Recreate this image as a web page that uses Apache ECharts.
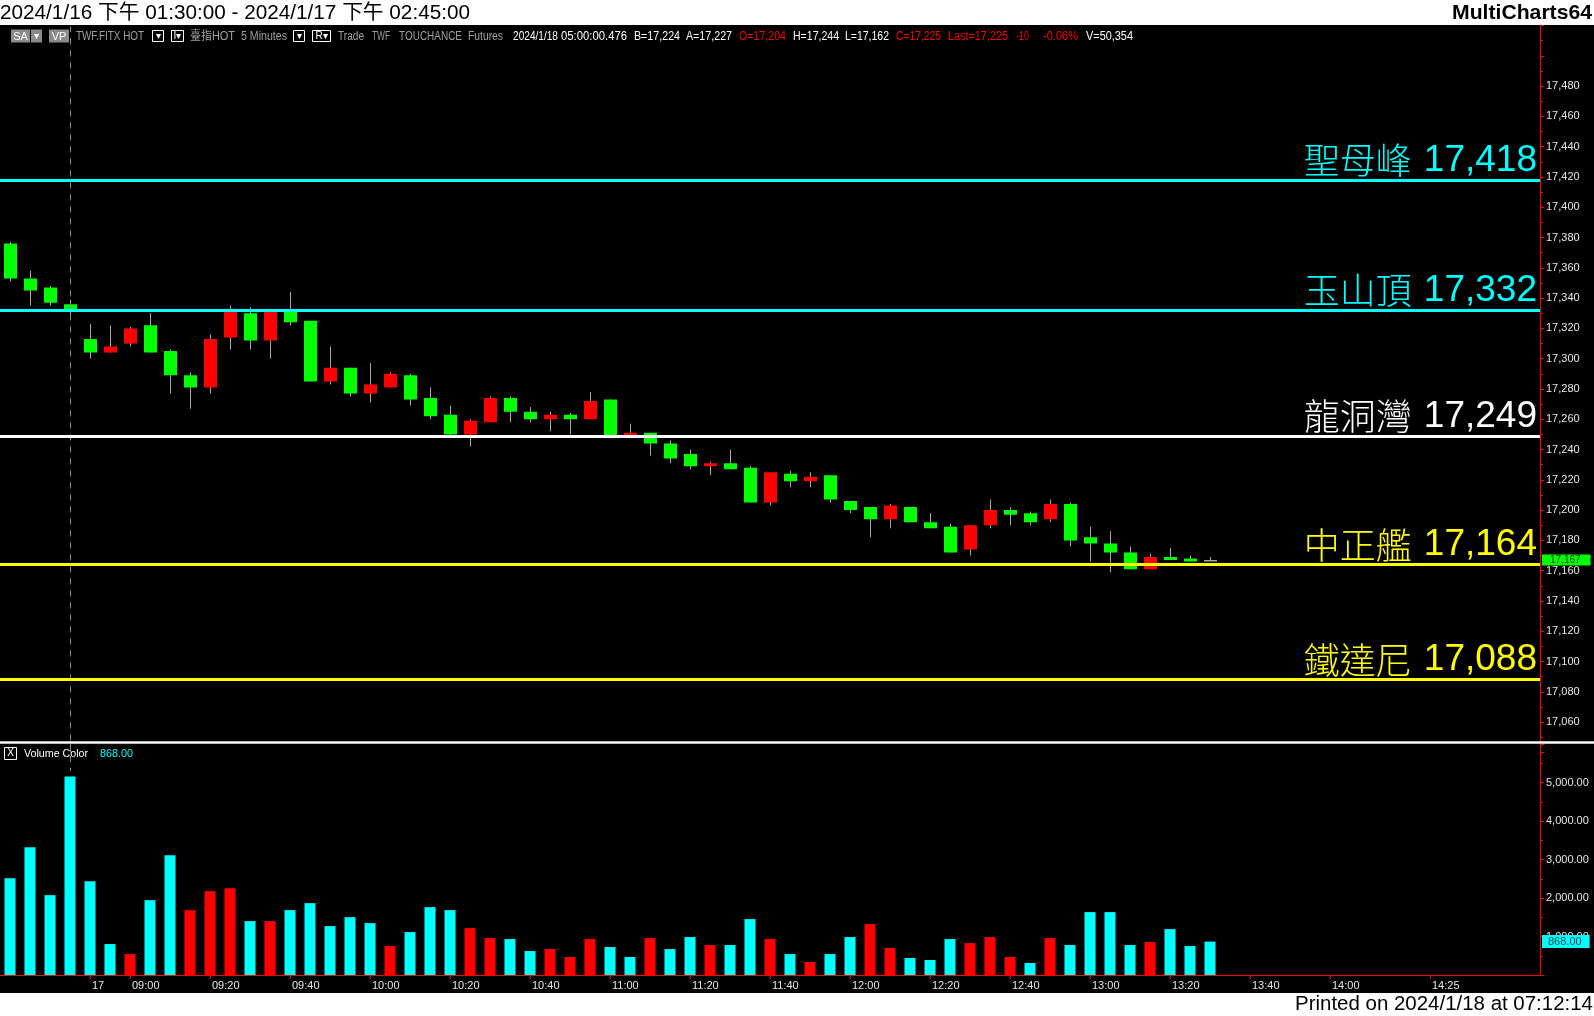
<!DOCTYPE html>
<html><head><meta charset="utf-8">
<script src="https://cdn.jsdelivr.net/npm/echarts@6/dist/echarts.min.js"></script>
<style>html,body{margin:0;padding:0;background:#fff;overflow:hidden}#c{width:1594px;height:1016px}</style>
</head><body><div id="c"></div>
<script>
// ---------------- data ----------------
const categories = ['04:45','04:50','04:55','05:00','08:50','08:55','09:00','09:05','09:10','09:15','09:20','09:25','09:30','09:35','09:40','09:45','09:50','09:55','10:00','10:05','10:10','10:15','10:20','10:25','10:30','10:35','10:40','10:45','10:50','10:55','11:00','11:05','11:10','11:15','11:20','11:25','11:30','11:35','11:40','11:45','11:50','11:55','12:00','12:05','12:10','12:15','12:20','12:25','12:30','12:35','12:40','12:45','12:50','12:55','13:00','13:05','13:10','13:15','13:20','13:25','13:30','13:35','13:40','13:45','13:50','13:55','14:00','14:05','14:10','14:15','14:20','14:25','14:30','14:35','14:40','14:45','14:50'];
const opens  = [17376,17353,17347,17336,17313,17304,17310,17322,17305,17289,17281,17314,17330,17312,17332,17325,17285,17294,17277,17281,17289,17274,17263,17250,17258,17274,17265,17260,17263,17260,17273,17249,17251,17244,17237,17229,17231,17228,17205,17224,17219,17223,17206,17202,17194,17202,17192,17189,17174,17190,17200,17198,17194,17204,17182,17178,17172,17161,17169,17168,17167];
const closes = [17353,17345,17337,17332,17304,17308,17320,17304,17289,17281,17313,17333,17312,17332,17324,17285,17294,17277,17283,17290,17273,17262,17250,17259,17274,17265,17260,17263,17260,17272,17249,17251,17244,17234,17229,17231,17227,17205,17225,17219,17222,17207,17200,17194,17203,17192,17188,17172,17190,17200,17197,17192,17204,17180,17178,17172,17161,17169,17167,17166,17167];
const lows   = [17351,17335,17335,17326,17300,17304,17308,17304,17277,17267,17277,17306,17306,17300,17322,17285,17283,17275,17271,17281,17269,17260,17248,17242,17258,17258,17258,17252,17250,17260,17249,17249,17236,17231,17227,17223,17227,17205,17203,17215,17215,17205,17198,17182,17188,17192,17188,17172,17170,17188,17190,17190,17192,17176,17166,17159,17161,17161,17167,17166,17167];
const highs  = [17377,17358,17348,17339,17323,17322,17321,17330,17306,17291,17316,17335,17334,17333,17344,17325,17308,17294,17297,17291,17290,17281,17269,17260,17275,17275,17268,17265,17264,17278,17273,17257,17251,17246,17240,17232,17240,17229,17225,17226,17225,17223,17206,17202,17204,17202,17198,17191,17190,17207,17202,17199,17207,17205,17189,17186,17176,17171,17175,17170,17169];
const volumes = [2514,3318,2074,5158,2436,804,544,1944,3110,1685,2177,2255,1400,1400,1685,1866,1270,1503,1348,752,1115,1763,1685,1218,959,933,622,674,467,933,726,467,959,674,985,778,778,1452,933,544,337,544,985,1322,700,441,389,933,829,985,467,311,959,778,1633,1633,778,855,1192,752,868];
const volumeUp = [0,0,0,0,0,0,1,0,0,1,1,1,0,1,0,0,0,0,0,1,0,0,0,1,1,0,0,1,1,1,0,0,1,0,0,1,0,0,1,0,1,0,0,1,1,0,0,0,1,1,1,0,1,0,0,0,0,1,0,0,0];
const levelNames  = ['聖母峰','玉山頂','龍洞灣','中正艦','鐵達尼'];
const levelValues = [17418,17332,17249,17164,17088];
const tickCats  = ['08:50','09:00','09:20','09:40','10:00','10:20','10:40','11:00','11:20','11:40','12:00','12:20','12:40','13:00','13:20','13:40','14:00','14:25'];
const tickTexts = ['17','09:00','09:20','09:40','10:00','10:20','10:40','11:00','11:20','11:40','12:00','12:20','12:40','13:00','13:20','13:40','14:00','14:25'];
const sessionBreak = '05:00';
const headerTitle = '2024/1/16 下午 01:30:00 - 2024/1/17 下午 02:45:00';
const brandText = 'MultiCharts64';
const printedText = 'Printed on 2024/1/18 at 07:12:14';
const infoTokens = ['TWF.FITX HOT','臺指HOT','5 Minutes','Trade','TWF','TOUCHANCE','Futures',
  '2024/1/18','05:00:00.476','B=17,224','A=17,227','O=17,204','H=17,244',
  'L=17,162','C=17,225','Last=17,225','-10','-0.06%','V=50,354'];
const infoKinds = ['g','g','g','g','g','g','g','w','w','w','w','r','w','w','r','r','r','r','w'];

// ---------------- layout / styles ----------------
const infoX = [76,190,241,338,372,399,468,513,561,634,686,739,793,845,896,948,1016,1043,1086];
const infoW = [68,45,46,26,18,63,35,45,66,46,46,47,46,44,45,60,13,35,47];
const levelColors = ['#00ffff','#00ffff','#ffffff','#ffff00','#ffff00'];
const UP = '#ff0000', DOWN = '#00ff00', WICK = '#a8a8a8';
const AXIS = '#ff0000', LBL = '#e6e6e6';
const FONT = '"Liberation Sans", Arial, "Noto Sans CJK TC", sans-serif';

const fmt = v => Number(v).toLocaleString('en-US');
const fmt2 = v => Number(v).toLocaleString('en-US', {minimumFractionDigits: 2, maximumFractionDigits: 2});

const mctx = document.createElement('canvas').getContext('2d');
function measure(text, size, weight) {
  mctx.font = (weight || 'normal') + ' ' + size + 'px ' + FONT;
  return mctx.measureText(text).width;
}

const candleData = opens.map((o, i) => [i, o, closes[i], lows[i], highs[i]]);
const volData = volumes.map((v, i) => ({value: v, itemStyle: {color: volumeUp[i] ? '#ff0000' : '#00ffff'}}));

function renderCandle(params, api) {
  const i = api.value(0), o = api.value(1), c = api.value(2), l = api.value(3), h = api.value(4);
  const pO = api.coord([i, o]), pC = api.coord([i, c]), pL = api.coord([i, l]), pH = api.coord([i, h]);
  const w = Math.round(api.size([1, 0])[0] * 0.65);
  const x = Math.round(pO[0]) + 0.5;
  const top = Math.min(pO[1], pC[1]), bot = Math.max(pO[1], pC[1]);
  const color = c > o ? UP : (c < o ? DOWN : WICK);
  return {type: 'group', children: [
    {type: 'line', shape: {x1: x, y1: pH[1], x2: x, y2: pL[1]}, style: {stroke: WICK, lineWidth: 1}},
    {type: 'rect', shape: {x: Math.round(x - w / 2), y: top, width: w, height: Math.max(bot - top, 1.5)}, style: {fill: color}}
  ]};
}

const levelLines = levelValues.map((v, k) => ({
  yAxis: v,
  lineStyle: {color: levelColors[k], width: 3, type: 'solid'},
  label: {
    show: true, position: 'insideEndTop', distance: [3, 1],
    formatter: '{n|' + levelNames[k] + '}{v|' + fmt(v) + '}',
    rich: {
      n: {color: levelColors[k], fontSize: 36, fontFamily: '"Noto Sans CJK TC"', fontWeight: 300},
      v: {color: levelColors[k], fontSize: 37, fontFamily: '"Liberation Sans", Arial', padding: [0, 0, 0, 12]}
    }
  }
}));

const lastClose = closes[closes.length - 1];
const lastVol = volumes[volumes.length - 1];

function textEl(x, y, text, fill, size, align, targetW, weight) {
  const s = targetW ? targetW / measure(text, size, weight) : 1;
  return {
    type: 'text', x: x, y: y, scaleX: s, silent: true, z: 100,
    style: {text: text, fill: fill, fontSize: size, fontFamily: FONT, fontWeight: weight || 'normal',
            align: align || 'left', verticalAlign: 'middle', textAlign: align || 'left', textVerticalAlign: 'middle'}
  };
}
const rectEl = (x, y, w, h, fill, stroke) => ({type: 'rect', silent: true, z: 99, shape: {x: x, y: y, width: w, height: h},
  style: {fill: fill, stroke: stroke || null, lineWidth: stroke ? 1 : 0}});

const infoColors = {g: '#a0a0a0', w: '#ffffff', r: '#ff0000'};
const graphics = [
  rectEl(0, 0, 1594, 25, '#ffffff'),
  rectEl(0, 993, 1594, 23, '#ffffff'),
  rectEl(0, 741, 1594, 3, '#bdbdbd'),
  {type: 'line', silent: true, z: 100, shape: {x1: 0, y1: 742.5, x2: 1594, y2: 742.5}, style: {stroke: '#ffffff', lineWidth: 1}},
  {type: 'line', silent: true, z: 100, shape: {x1: 70.5, y1: 744, x2: 70.5, y2: 771}, style: {stroke: '#8a8a8a', lineWidth: 1, lineDash: [6, 6]}},
  textEl(0, 13, headerTitle, '#000000', 20, 'left', 470),
  textEl(1592, 13, brandText, '#000000', 21, 'right', 140, 'bold'),
  textEl(1593, 1004, printedText, '#000000', 20, 'right', 298),
  // info bar widgets
  rectEl(11, 29.5, 31, 13, '#8a8a8a'),
  {type: 'line', silent: true, z: 100, shape: {x1: 30.5, y1: 29.5, x2: 30.5, y2: 42.5}, style: {stroke: '#000', lineWidth: 1}},
  textEl(20.5, 36.5, 'SA', '#ffffff', 11, 'center'),
  textEl(36.5, 36.5, '▾', '#ffffff', 10, 'center'),
  rectEl(49, 29.5, 20, 13, '#8a8a8a'),
  textEl(59, 36.5, 'VP', '#ffffff', 11, 'center'),
  rectEl(152.5, 30.5, 11, 11, '#000', '#ffffff'),
  textEl(158, 36.5, '▾', '#ffffff', 10, 'center'),
  rectEl(171.5, 30.5, 12, 11, '#000', '#ffffff'),
  textEl(177.5, 36.5, 'I▾', '#ffffff', 10, 'center'),
  rectEl(293.5, 30.5, 11, 11, '#000', '#ffffff'),
  textEl(299, 36.5, '▾', '#ffffff', 10, 'center'),
  rectEl(312.5, 30.5, 18, 11, '#000', '#ffffff'),
  textEl(321.5, 36.5, 'R▾', '#ffffff', 10, 'center'),
  // volume legend
  rectEl(4.5, 747.5, 12, 12, '#000', '#ffffff'),
  textEl(10.5, 753.5, 'X', '#ffffff', 10, 'center'),
  textEl(24, 753.5, 'Volume Color', '#ffffff', 11, 'left', 64),
  textEl(100, 753.5, fmt2(lastVol), '#00ffff', 11, 'left', 33)
];
infoTokens.forEach((t, k) => graphics.push(textEl(infoX[k], 36.5, t, infoColors[infoKinds[k]], 12, 'left', infoW[k])));

const chart = echarts.init(document.getElementById('c'), null, {renderer: 'canvas'});
chart.setOption({
  animation: false,
  backgroundColor: '#000000',
  textStyle: {fontFamily: FONT},
  grid: [
    {left: 0, right: 54, top: 25.5, height: 726.9},
    {left: 0, right: 54, top: 744, height: 231}
  ],
  xAxis: [
    {type: 'category', gridIndex: 0, data: categories, boundaryGap: true, show: false},
    {type: 'category', gridIndex: 1, data: categories, boundaryGap: true,
     axisLine: {lineStyle: {color: AXIS, width: 1}},
     axisTick: {show: true, alignWithLabel: true, length: 4, lineStyle: {color: AXIS},
                interval: (i, v) => tickCats.indexOf(v) >= 0},
     axisLabel: {show: true, color: LBL, fontSize: 11, align: 'left', margin: 5, padding: [0, 0, 0, 2],
                 interval: (i, v) => tickCats.indexOf(v) >= 0,
                 formatter: v => { const k = tickCats.indexOf(v); return k >= 0 ? tickTexts[k] : ''; }},
     splitLine: {show: false}}
  ],
  yAxis: [
    {type: 'value', gridIndex: 0, position: 'right', min: 17040, max: 17520, interval: 20,
     axisLine: {show: true, lineStyle: {color: AXIS}},
     axisTick: {show: true, length: 4, lineStyle: {color: AXIS}},
     minorTick: {show: true, splitNumber: 2, length: 3, lineStyle: {color: AXIS}},
     axisLabel: {color: LBL, fontSize: 11, margin: 6,
                 formatter: v => (v >= 17060 && v <= 17480) ? fmt(v) : ''},
     splitLine: {show: false}, minorSplitLine: {show: false}},
    {type: 'value', gridIndex: 1, position: 'right', min: 0, max: 6000, interval: 1000,
     axisLine: {show: true, lineStyle: {color: AXIS}},
     axisTick: {show: true, length: 4, lineStyle: {color: AXIS}},
     minorTick: {show: true, splitNumber: 2, length: 3, lineStyle: {color: AXIS}},
     axisLabel: {color: LBL, fontSize: 11, margin: 6,
                 formatter: v => (v >= 1000 && v <= 5000) ? fmt2(v) : ''},
     splitLine: {show: false}}
  ],
  series: [
    {type: 'custom', name: 'price', xAxisIndex: 0, yAxisIndex: 0, data: candleData,
     encode: {x: 0, y: [1, 2, 3, 4]}, renderItem: renderCandle, clip: true, silent: true,
     markLine: {silent: true, symbol: ['none', 'none'], animation: false,
       emphasis: {disabled: true},
       data: [
         {xAxis: sessionBreak, lineStyle: {color: '#8a8a8a', width: 1, type: [6, 6]}, label: {show: false}},
         ...levelLines,
         {yAxis: lastClose, lineStyle: {color: 'rgba(0,0,0,0)', width: 1},
          label: {show: true, position: 'end', distance: 2, formatter: fmt(lastClose), color: '#003800',
                  backgroundColor: '#00ff00', fontSize: 10, padding: [1, 10, 0, 8], fontFamily: FONT}}
       ]}
    },
    {type: 'bar', name: 'volume', xAxisIndex: 1, yAxisIndex: 1, data: volData, barWidth: 11, silent: true,
     markLine: {silent: true, symbol: ['none', 'none'], animation: false, emphasis: {disabled: true},
       data: [{yAxis: lastVol, lineStyle: {color: 'rgba(0,0,0,0)', width: 1},
               label: {show: true, position: 'end', distance: 2, formatter: fmt2(lastVol), color: '#004848',
                       backgroundColor: '#00ffff', fontSize: 11, padding: [1, 8, 1, 6], fontFamily: FONT}}]}
    }
  ],
  graphic: graphics
});
</script>
</body></html>
